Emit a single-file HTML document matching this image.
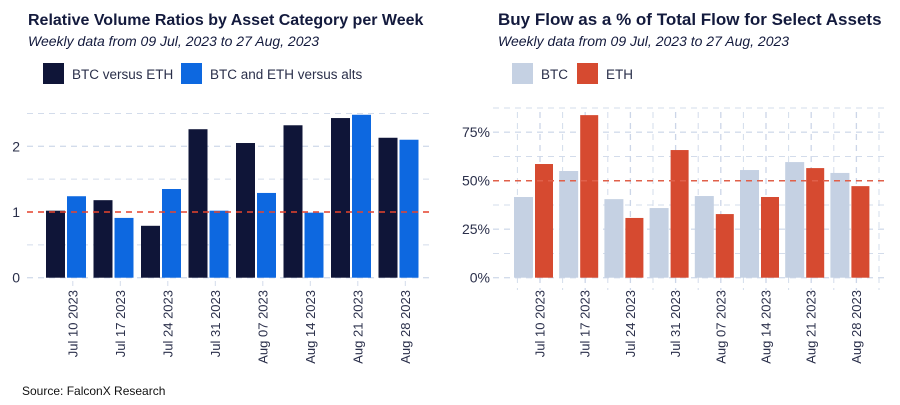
<!DOCTYPE html>
<html><head><meta charset="utf-8"><style>
body{margin:0;background:#fff;width:900px;height:400px;overflow:hidden;font-family:"Liberation Sans",Arial,sans-serif}
svg text{font-family:"Liberation Sans",Arial,sans-serif}
</style></head><body>
<svg id="c" width="900" height="400">
<text x="28" y="25" font-size="16" font-weight="bold" fill="#131a3d">Relative Volume Ratios by Asset Category per Week</text>
<text x="28" y="46" font-size="14" font-style="italic" fill="#131a3d">Weekly data from 09 Jul, 2023 to 27 Aug, 2023</text>
<rect x="43" y="63" width="21" height="21" fill="#0f1538"/>
<text x="72" y="79" font-size="13.5" fill="#2a2f4a">BTC versus ETH</text>
<rect x="181" y="63" width="21" height="21" fill="#0d68e0"/>
<text x="210" y="79" font-size="13.5" fill="#2a2f4a">BTC and ETH versus alts</text>
<text x="498" y="25" font-size="17" font-weight="bold" fill="#131a3d">Buy Flow as a % of Total Flow for Select Assets</text>
<text x="498" y="46" font-size="14" font-style="italic" fill="#131a3d">Weekly data from 09 Jul, 2023 to 27 Aug, 2023</text>
<rect x="512" y="63" width="21" height="21" fill="#c5d1e3"/>
<text x="541" y="79" font-size="13.5" fill="#2a2f4a">BTC</text>
<rect x="577" y="63" width="21" height="21" fill="#d64a30"/>
<text x="606" y="79" font-size="13.5" fill="#2a2f4a">ETH</text>
<text x="22" y="395" font-size="12" fill="#111">Source: FalconX Research</text>
<g id="left"></g>
<g id="right"></g>
</svg>
<script>
const dates = ["Jul 10 2023","Jul 17 2023","Jul 24 2023","Jul 31 2023","Aug 07 2023","Aug 14 2023","Aug 21 2023","Aug 28 2023"];
const btcVsEth = [1.02,1.18,0.79,2.26,2.05,2.32,2.43,2.13];
const btcEthVsAlts = [1.24,0.91,1.35,1.02,1.29,0.99,2.48,2.10];
const leftTicks = [0,1,2];
const btcBuy = [41.6,55,40.5,35.9,42.1,55.5,59.6,54];
const ethBuy = [58.6,83.8,30.8,65.8,32.8,41.6,56.5,47.2];
const rightTicks = [0,25,50,75];

const NS="http://www.w3.org/2000/svg";
function mk(p,t,a){const e=document.createElementNS(NS,t);for(const k in a)e.setAttribute(k,a[k]);p.appendChild(e);return e;}

// left
(function(){
const g=document.getElementById('left');
const y0=277.7, sc=65.7, x0=27, x1=433;
const yL=v=>y0-v*sc;
const gc=i=>66+i*47.5;
for(let v=0;v<=2.5;v+=0.5){
 const l=mk(g,'line',{x1:x0,x2:x1,y1:yL(v),y2:yL(v),stroke:'#d3dceb','stroke-width':v%1===0?1.3:1,'stroke-dasharray':'6,5'});
 
 
}
leftTicks.forEach(v=>{const t=mk(g,'text',{x:20,y:yL(v)+5,'font-size':14,fill:'#2a2f4a','text-anchor':'end'});t.textContent=v;
 
 });
dates.forEach((d,i)=>{
 const a=mk(g,'rect',{x:gc(i)-20,y:yL(btcVsEth[i]),width:19,height:btcVsEth[i]*sc,fill:'#0f1538'});
 
 
 const b=mk(g,'rect',{x:gc(i)+1,y:yL(btcEthVsAlts[i]),width:19,height:btcEthVsAlts[i]*sc,fill:'#0d68e0'});
 
 
 const tx=gc(i)+6.8;
 mk(g,'line',{x1:tx,x2:tx,y1:281,y2:286,stroke:'#d3dceb','stroke-width':1});
 const t=mk(g,'text',{x:0,y:0,'font-size':13,fill:'#2a2f4a','text-anchor':'end',transform:`translate(${tx+4.5},290) rotate(-90)`});
 t.textContent=d;
 
 
});
const r=mk(g,'line',{x1:x0,x2:x1,y1:yL(1),y2:yL(1),stroke:'#e8442c','stroke-width':1.5,'stroke-dasharray':'6,5'});


})();

// right
(function(){
const g=document.getElementById('right');
const y0=277.7, sc=1.94, x0=493, x1=887;
const yR=v=>y0-v*sc;
const gc=i=>533.5+i*45.2;
for(let i=0;i<=8;i++){
 const mx=gc(i)+6.5-22.6;
 const l=mk(g,'line',{x1:mx,x2:mx,y1:112,y2:290,stroke:'#d3dceb','stroke-width':1,'stroke-dasharray':'6,5'});
 
 
}
for(let v=0;v<=87.5;v+=12.5){
 const l=mk(g,'line',{x1:x0,x2:x1,y1:yR(v),y2:yR(v),stroke:'#d3dceb','stroke-width':v%25===0?1.3:1,'stroke-dasharray':'6,5'});
 
 
}
dates.forEach((d,i)=>{
 const tx=gc(i)+6.5;
 const l=mk(g,'line',{x1:tx,x2:tx,y1:112,y2:290,stroke:'#ccd6e8','stroke-width':1.3,'stroke-dasharray':'6,5'});
 
 
});
rightTicks.forEach(v=>{const t=mk(g,'text',{x:490,y:yR(v)+5,'font-size':14,fill:'#2a2f4a','text-anchor':'end'});t.textContent=v+'%';
 
 });
dates.forEach((d,i)=>{
 const a=mk(g,'rect',{x:gc(i)-19.5,y:yR(btcBuy[i]),width:19,height:btcBuy[i]*sc,fill:'#c5d1e3'});
 
 
 const b=mk(g,'rect',{x:gc(i)+1.5,y:yR(ethBuy[i]),width:18,height:ethBuy[i]*sc,fill:'#d64a30'});
 
 
 const tx=gc(i)+6.5;
 const t=mk(g,'text',{x:0,y:0,'font-size':13,fill:'#2a2f4a','text-anchor':'end',transform:`translate(${tx+4.5},290) rotate(-90)`});
 t.textContent=d;
 
 
});
const r=mk(g,'line',{x1:x0,x2:x1,y1:yR(50),y2:yR(50),stroke:'#e0604a','stroke-width':1.5,'stroke-dasharray':'6,5'});


})();
</script>
</body></html>
